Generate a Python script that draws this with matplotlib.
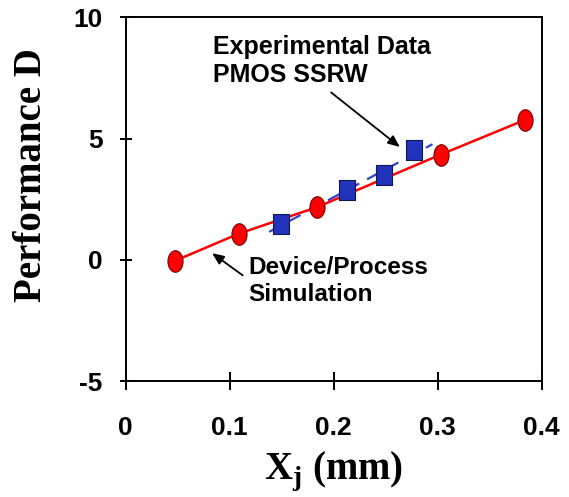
import matplotlib
matplotlib.use("Agg")
import matplotlib.pyplot as plt
import numpy as np
from matplotlib.path import Path
from matplotlib.transforms import Affine2D

# simulation (red) and experiment (blue)
sim_x = [0.047, 0.109, 0.184, 0.303, 0.384]
sim_y = [-0.05, 1.08, 2.17, 4.34, 5.77]
exp_x = [0.149, 0.213, 0.248, 0.277]
exp_y = [1.46, 2.86, 3.48, 4.52]
fit_range = [0.138, 0.295]

x_ticks = [0, 0.1, 0.2, 0.3, 0.4]
x_tick_labels = ["0", "0.1", "0.2", "0.3", "0.4"]
y_ticks = [-5, 0, 5, 10]

SANS = ["Liberation Sans", "DejaVu Sans"]
SERIF = ["Liberation Serif", "DejaVu Serif"]

plt.rcParams["axes.unicode_minus"] = False

# tall ellipse / tall rectangle markers
ellipse = Path.unit_circle().transformed(Affine2D().scale(0.7, 1.0))
rect = Path.unit_rectangle().transformed(Affine2D().translate(-0.5, -0.5).scale(0.76, 1.0))

fig = plt.figure(figsize=(5.69, 4.97), dpi=100)
ax = fig.add_axes([0.2209, 0.2334, 0.7311, 0.7318])

coef = np.polyfit(exp_x, exp_y, 1)
fx = np.array(fit_range)
ax.plot(fx, np.polyval(coef, fx), color="#3344CC", lw=1.6, ls=(0, (6, 4)), zorder=2)
ax.plot(sim_x, sim_y, color="#FF0000", lw=1.8, zorder=3)
ax.plot(exp_x, exp_y, ls="none", marker=rect, ms=15, mfc="#2233BB",
        mec="#101850", mew=0.8, zorder=4)
ax.plot(sim_x, sim_y, ls="none", marker=ellipse, ms=15.5, mfc="#FF0000",
        mec="#700000", mew=0.8, zorder=5)

ax.set_xlim(0, 0.4)
ax.set_ylim(-5, 10)
ax.set_xticks(x_ticks)
ax.set_xticklabels(x_tick_labels)
ax.set_yticks(y_ticks)

for s in ax.spines.values():
    s.set_linewidth(1.4)
ax.tick_params(axis="x", direction="inout", length=13, width=1.4, pad=19)
ax.tick_params(axis="y", direction="inout", length=9, width=1.4, pad=12)
for lab in ax.get_xticklabels() + ax.get_yticklabels():
    lab.set_family(SANS)
    lab.set_fontweight("bold")
    lab.set_fontsize(19)

ax.set_xlabel(r"X$_\mathregular{j}$ (mm)", family=SERIF, fontweight="bold",
              fontsize=28, labelpad=6)
ax.set_ylabel("Performance D", family=SERIF, fontweight="bold", fontsize=28)
ax.yaxis.set_label_coords(-0.182, 0.566)

ax.text(0.0837, 9.25, "Experimental Data\nPMOS SSRW", family=SANS,
        fontweight="bold", fontsize=18, ha="left", va="top")
ax.text(0.1176, 0.15, "Device/Process\nSimulation", family=SANS,
        fontweight="bold", fontsize=17.5, ha="left", va="top")

arrow = dict(arrowstyle="-|>,head_length=0.7,head_width=0.3", color="black", lw=1.3)
ax.annotate("", xy=(0.2657, 4.58), xytext=(0.1955, 6.97), arrowprops=arrow)
ax.annotate("", xy=(0.0809, 0.34), xytext=(0.1147, -0.71), arrowprops=arrow)

fig.savefig("out.png", dpi=100)
